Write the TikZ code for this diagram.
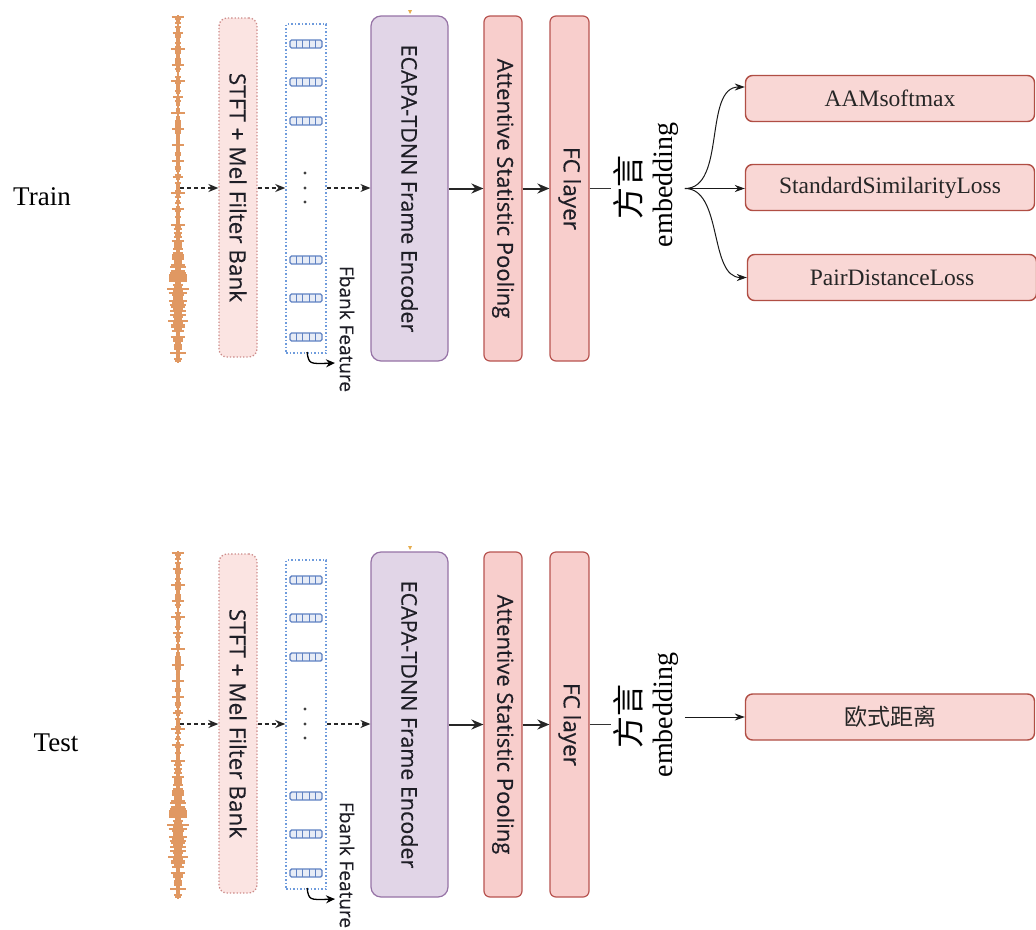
\documentclass[tikz,border=0pt]{standalone}
\usepackage{fontspec}
\usepackage{graphicx}
\setmainfont{Liberation Serif}
\newfontfamily\cjk{Noto Sans CJK SC}
\newfontfamily\uif[FakeBold=0.35]{Open Sans}
\usetikzlibrary{arrows.meta}
\definecolor{wavec}{RGB}{224,152,98}
\definecolor{stftfill}{RGB}{251,228,226}
\definecolor{stftline}{RGB}{205,140,138}
\definecolor{fbline}{RGB}{110,155,220}
\definecolor{frame}{RGB}{95,130,195}
\definecolor{ecfill}{RGB}{225,213,231}
\definecolor{ecline}{RGB}{150,115,166}
\definecolor{rfill}{RGB}{248,206,204}
\definecolor{rline}{RGB}{184,84,80}
\definecolor{lfill}{RGB}{249,215,213}
\definecolor{lline}{RGB}{176,78,68}
\definecolor{txt}{RGB}{30,30,38}
\newcommand\rtxt[2]{\rotatebox{-90}{\uif\fontsize{#1}{#1}\selectfont\color{txt}#2}}
\tikzset{
  stftbox/.style={draw=stftline,fill=stftfill,dotted,line width=1.3pt,rounded corners=8pt,minimum width=38pt,minimum height=339pt,inner sep=0pt},
  fbbox/.style={draw=fbline,dotted,line width=1.5pt,minimum width=40pt,minimum height=329pt,inner sep=0pt},
  ecbox/.style={draw=ecline,fill=ecfill,line width=1.2pt,rounded corners=10pt,minimum width=77pt,minimum height=345pt,inner sep=0pt},
  redbox/.style={draw=rline,fill=rfill,line width=1.2pt,rounded corners=6pt,minimum width=38pt,minimum height=345pt,inner sep=0pt},
  lossbox/.style={draw=lline,fill=lfill,line width=1.4pt,rounded corners=7pt,minimum width=289pt,minimum height=46pt,inner sep=0pt,font=\fontsize{23.5}{26}\selectfont,text=black!85},
  dasharrow/.style={draw=black!85,line width=1.4pt,dash pattern=on 4pt off 3pt,-{Stealth[length=10pt,width=8pt]}},
  solidarrow/.style={draw=black!85,line width=2pt,-{Stealth[length=12pt,width=10pt]}},
  thinarrow/.style={draw=black!90,line width=1pt,-{Stealth[length=10pt,width=7pt]}},
  sidelabel/.style={font=\fontsize{27}{30}\selectfont,text=black},
  emblabel/.style={inner sep=2pt,text=black},
}
\begin{document}
\begin{tikzpicture}[x=1pt,y=-1pt]
\useasboundingbox[fill=white] (0,0) rectangle (1036,929);
\foreach \p/\o in {a/0,b/536}{
\begin{scope}[yshift=-\o pt,name prefix=\p-]
  % waveform
  \pgfmathsetseed{11}
  \draw[wavec,line width=2.6pt] (178,15) -- (178,363);
  \foreach \i in {0,...,172}{
    \pgfmathsetmacro\yy{17+2*\i}
    \pgfmathsetmacro\ww{(3.6+6.5*exp(-((\yy-295)/45)^2))*(0.35+0.65*rnd)+3.5*(mod(\i,8)==0)}
    \draw[wavec,line width=2.1pt] (178-\ww,\yy) -- (178+\ww,\yy);
  }
  \coordinate (wave) at (180,188);
  % boxes
  \node[stftbox] (stft) at (238,187.5) {\rtxt{22.5}{STFT + Mel Filter Bank}};
  \node[fbbox] (fb) at (306,188.5) {};
  \foreach \yy in {44,82,121,260,298,337}{
    \draw[frame,line width=1.4pt,rounded corners=1.5pt,fill=frame!15] (290,\yy-4) rectangle (322,\yy+4);
    \foreach \xx in {296.4,302.8,309.2,315.6}{\draw[frame,line width=1.1pt] (\xx,\yy-4) -- (\xx,\yy+4);}
  }
  \foreach \yy in {173,188,202}{\fill[black!75] (305,\yy) circle (1.7pt);}
  \node (fbl) at (347,329) {\rtxt{19}{Fbank Feature}};
  \coordinate (cs) at (307,352);
  \coordinate (ce) at (335,363);
  \draw[black,line width=1.3pt,-{Stealth[length=9pt,width=8pt]}] (cs) .. controls (309,364) .. (ce);
  \node[ecbox] (ec) at (409.5,188.5) {\rtxt{21.5}{ECAPA-TDNN Frame Encoder}};
  \coordinate (tick) at (410,13);
  \fill[wavec!80!yellow] (tick) ++(-2,-3) -- ++(4,0) -- ++(-2,4) -- cycle;
  \node[redbox] (att) at (503,188.5) {\rtxt{22}{Attentive Statistic Pooling}};
  \node[redbox,minimum width=39pt] (fc) at (569.5,188.5) {\rtxt{22.5}{FC layer}};
  % connectors
  \draw[dasharrow] (wave) -- (stft.west |- wave);
  \draw[dasharrow] (stft.east |- wave) -- (fb.west |- wave);
  \draw[dasharrow] (fb.east |- wave) -- (ec.west |- wave);
  \draw[solidarrow] (ec) -- (att);
  \draw[solidarrow] (att) -- (fc);
\end{scope}
}
% embedding labels
\node[emblabel] (a-embz) at (628,187) {\rotatebox{90}{\cjk\fontsize{32}{34}\selectfont 方言}};
\node[emblabel] (a-embe) at (666,185) {\rotatebox{90}{\fontsize{28}{30}\selectfont embedding}};
\node[emblabel] (b-embz) at (628,716) {\rotatebox{90}{\cjk\fontsize{32}{34}\selectfont 方言}};
\node[emblabel] (b-embe) at (666,715) {\rotatebox{90}{\fontsize{28}{30}\selectfont embedding}};
\draw[black!80,line width=1.8pt] (a-fc) -- (a-embz.west |- a-fc);
\draw[black!80,line width=1.8pt] (b-fc) -- (b-embz.west |- b-fc);
% side labels
\node[sidelabel] (train) at (42,197) {Train};
\node[sidelabel] (test) at (56,743) {Test};
% training losses
\node[lossbox] (aam) at (890,98.5) {AAMsoftmax};
\node[lossbox] (ssl) at (890,187.5) {StandardSimilarityLoss};
\node[lossbox] (pdl) at (892,277.5) {PairDistanceLoss};
\coordinate (br) at ([xshift=4pt]a-embe.east |- a-fc);
\draw[thinarrow] (br) to[out=0,in=180,looseness=0.9] ([yshift=11.5pt]aam.west);
\draw[thinarrow] (br) -- (ssl.west |- br);
\draw[thinarrow] (br) to[out=0,in=180,looseness=0.9] (pdl.west);
% test
\node[lossbox] (ou) at (890,717) {\cjk\fontsize{23}{26}\selectfont 欧式距离};
\coordinate (tb) at ([xshift=4pt]b-embe.east |- ou);
\draw[thinarrow] (tb) -- (ou.west);
\end{tikzpicture}
\end{document}
